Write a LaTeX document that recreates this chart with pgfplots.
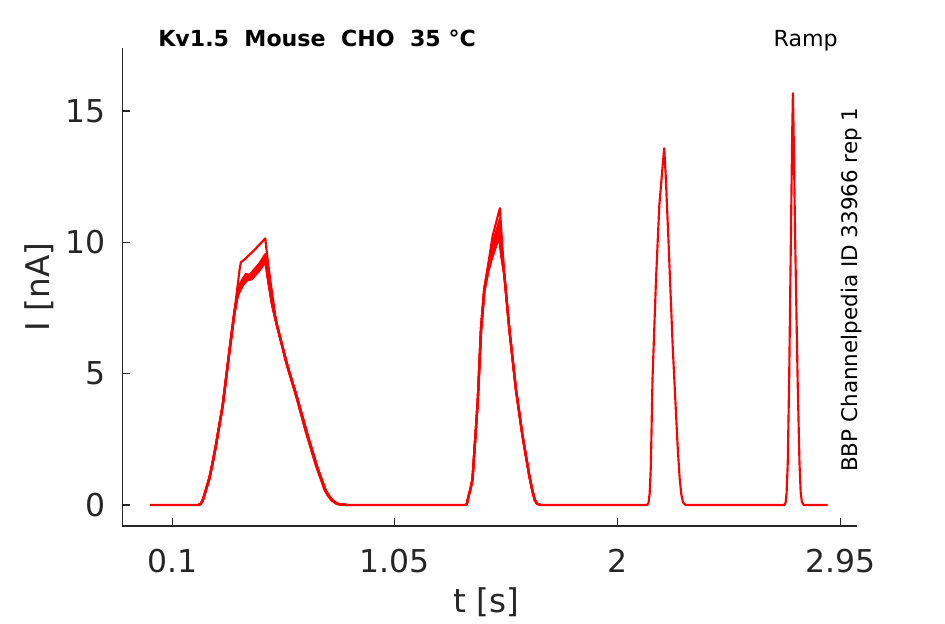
\documentclass[border=0pt]{standalone}
\usepackage{fontspec}
\setmainfont{DejaVu Sans}
\usepackage{pgfplots}
\pgfplotsset{compat=1.18}
\definecolor{txt}{HTML}{262626}
\definecolor{tr}{HTML}{FF0000}
\tikzset{trace/.style={draw=tr, line width=1.6pt, line join=round, mark=none}}
\begin{document}
\begin{tikzpicture}
\path[use as bounding box] (0,0) rectangle (708.75pt,468pt);
\begin{axis}[
  at={(91.7pt,73.5pt)}, anchor=south west,
  width=550.8pt, height=358.5pt, scale only axis,
  xmin=-0.113, xmax=3.02, ymin=-0.8, ymax=17.4,
  axis x line=bottom, axis y line=left,
  axis line style={-, draw=txt, line width=0.9pt},
  tick align=inside, major tick length=5.8pt,
  tick style={draw=txt, line width=0.8pt},
  xtick={0.1,1.05,2,2.95}, xticklabels={0.1,1.05,2,2.95},
  ytick={0,5,10,15}, yticklabels={0,5,10,15},
  xticklabel style={font=\fontsize{23.6pt}{26pt}\selectfont, text=txt, anchor=base, inner sep=0pt, yshift=-34.5pt},
  yticklabel style={font=\fontsize{23.6pt}{26pt}\selectfont, text=txt, anchor=east, inner sep=0pt, xshift=-12.2pt},
  clip=false,
]
% common trace (full sweep)
\addplot[trace] table {
0.005 0
0.212 0
0.222 0.05
0.230 0.18
0.236 0.35
0.245 0.62
0.258 1.05
0.272 1.6
0.286 2.26
0.315 3.78
0.343 5.8
0.365 7.33
0.379 8.35
0.388 9.0
0.393 9.24
0.414 9.39
0.455 9.75
0.497 10.15
0.507 9.35
0.520 8.45
0.542 7.08
0.585 5.44
0.628 4.16
0.670 2.78
0.713 1.50
0.735 0.95
0.748 0.61
0.762 0.38
0.777 0.2
0.795 0.07
0.812 0.02
0.840 0
1.352 0
1.357 0.05
1.363 0.3
1.372 0.6
1.381 0.99
1.403 3.9
1.417 6.7
1.431 8.22
1.445 8.98
1.467 10.25
1.498 11.3
1.505 10.3
1.516 8.86
1.538 6.7
1.566 4.4
1.594 2.64
1.623 1.12
1.636 0.55
1.646 0.2
1.656 0.05
1.670 0
2.126 0
2.132 0.08
2.137 0.45
2.142 1.5
2.149 4.8
2.164 8.6
2.178 11.4
2.193 13.0
2.199 13.58
2.205 12.6
2.218 9.87
2.235 6.06
2.256 2.26
2.265 1.0
2.272 0.4
2.279 0.1
2.290 0
2.712 0
2.717 0.1
2.721 0.45
2.726 1.6
2.732 4.8
2.739 9.87
2.745 14.2
2.748 15.68
2.751 14.2
2.758 9.87
2.768 4.8
2.776 1.6
2.781 0.5
2.786 0.12
2.794 0
2.896 0
};
% other sweeps, peak 1
\addplot[trace] table {
0.212 0
0.222 0.05
0.230 0.18
0.236 0.35
0.245 0.62
0.258 1.0
0.272 1.6
0.286 2.26
0.315 3.78
0.343 5.8
0.365 7.33
0.379 8.0
0.388 8.3
0.405 8.55
0.425 8.75
0.445 8.85
0.470 9.1
0.497 9.5
0.508 8.7
0.525 7.7
0.545 6.9
0.588 5.4
0.632 4.1
0.673 2.75
0.716 1.48
0.738 0.93
0.752 0.58
0.766 0.36
0.781 0.19
0.798 0.07
0.815 0.02
0.845 0
};
\addplot[trace] table {
0.213 0
0.223 0.05
0.231 0.18
0.237 0.35
0.246 0.62
0.259 1.0
0.273 1.6
0.287 2.26
0.316 3.78
0.344 5.8
0.366 7.3
0.380 7.95
0.389 8.15
0.405 8.4
0.420 8.55
0.440 8.6
0.470 8.9
0.498 9.25
0.510 8.5
0.527 7.6
0.548 6.8
0.592 5.3
0.636 4.0
0.677 2.7
0.719 1.45
0.741 0.9
0.755 0.56
0.769 0.35
0.784 0.18
0.801 0.07
0.818 0.02
0.848 0
};
\addplot[trace] table {
0.212 0
0.222 0.05
0.230 0.18
0.236 0.35
0.245 0.62
0.258 1.0
0.272 1.6
0.286 2.26
0.315 3.78
0.343 5.8
0.365 7.33
0.379 8.05
0.388 8.35
0.402 8.5
0.418 8.7
0.432 8.65
0.450 8.85
0.475 9.1
0.497 9.4
0.509 8.6
0.526 7.65
0.546 6.85
0.590 5.35
0.634 4.05
0.675 2.72
0.718 1.46
0.740 0.92
0.754 0.57
0.768 0.36
0.783 0.19
0.800 0.07
0.816 0.02
0.846 0
};
\addplot[trace] table {
0.212 0
0.222 0.05
0.230 0.18
0.236 0.35
0.245 0.62
0.258 1.0
0.272 1.6
0.286 2.26
0.315 3.78
0.343 5.8
0.365 7.33
0.379 8.1
0.388 8.4
0.400 8.6
0.415 8.8
0.430 8.75
0.448 8.95
0.472 9.2
0.497 9.55
0.508 8.75
0.524 7.75
0.544 6.95
0.587 5.42
0.630 4.12
0.672 2.76
0.715 1.49
0.737 0.94
0.751 0.59
0.765 0.37
0.780 0.2
0.797 0.07
0.814 0.02
0.844 0
};
\addplot[trace] table {
0.213 0
0.223 0.05
0.231 0.18
0.237 0.35
0.246 0.62
0.259 1.0
0.273 1.6
0.287 2.26
0.316 3.78
0.344 5.8
0.366 7.3
0.380 8.0
0.389 8.25
0.404 8.45
0.422 8.6
0.442 8.7
0.468 8.95
0.497 9.3
0.509 8.55
0.526 7.62
0.547 6.82
0.591 5.32
0.635 4.02
0.676 2.71
0.718 1.45
0.740 0.91
0.754 0.56
0.768 0.35
0.783 0.18
0.800 0.07
0.817 0.02
0.847 0
};
% other sweeps, peak 2
\addplot[trace] table {
1.352 0
1.357 0.05
1.363 0.3
1.372 0.6
1.381 0.99
1.403 3.9
1.418 6.7
1.432 8.2
1.447 8.9
1.462 9.4
1.496 10.4
1.503 9.6
1.516 8.8
1.538 6.7
1.566 4.4
1.594 2.64
1.623 1.12
1.636 0.55
1.646 0.2
1.656 0.05
1.670 0
};
\addplot[trace] table {
1.352 0
1.357 0.05
1.363 0.3
1.372 0.6
1.381 0.99
1.403 3.9
1.417 6.7
1.431 8.22
1.446 8.95
1.463 9.6
1.497 10.7
1.504 9.8
1.516 8.85
1.538 6.7
1.567 4.4
1.595 2.64
1.624 1.12
1.637 0.55
1.647 0.2
1.657 0.05
1.671 0
};
\addplot[trace] table {
1.353 0
1.358 0.05
1.364 0.3
1.373 0.6
1.382 0.99
1.404 3.9
1.419 6.7
1.433 8.15
1.448 8.85
1.461 9.3
1.495 10.2
1.503 9.5
1.517 8.75
1.539 6.65
1.567 4.38
1.595 2.62
1.624 1.1
1.637 0.54
1.647 0.2
1.657 0.05
1.671 0
};
\addplot[trace] table {
1.352 0
1.357 0.05
1.363 0.3
1.372 0.6
1.381 0.99
1.403 3.9
1.417 6.7
1.431 8.22
1.446 9.0
1.465 9.9
1.498 10.9
1.505 10.0
1.516 8.86
1.538 6.7
1.566 4.4
1.594 2.64
1.623 1.12
1.636 0.55
1.646 0.2
1.656 0.05
1.670 0
};
\end{axis}
% texts
\node[anchor=base west, inner sep=0pt, text=black, font=\fontsize{16.6pt}{19pt}\selectfont\bfseries] at (118.5pt,432.75pt) {Kv1.5\ \ Mouse\ \ CHO\ \ 35 °C};
\node[anchor=base east, inner sep=0pt, text=black, font=\fontsize{16.6pt}{19pt}\selectfont] at (628.5pt,432.75pt) {Ramp};
\node[anchor=base west, rotate=90, inner sep=0pt, text=black, font=\fontsize{16.1pt}{19pt}\selectfont] at (642.75pt,114pt) {BBP Channelpedia ID 33966 rep 1};
\node[anchor=base, inner sep=0pt, text=txt, font=\fontsize{24.5pt}{28pt}\selectfont] at (364.5pt,8.25pt) {t [s]};
\node[anchor=base, rotate=90, inner sep=0pt, text=txt, font=\fontsize{24.5pt}{28pt}\selectfont] at (36.75pt,252.75pt) {I [nA]};
\end{tikzpicture}
\end{document}
